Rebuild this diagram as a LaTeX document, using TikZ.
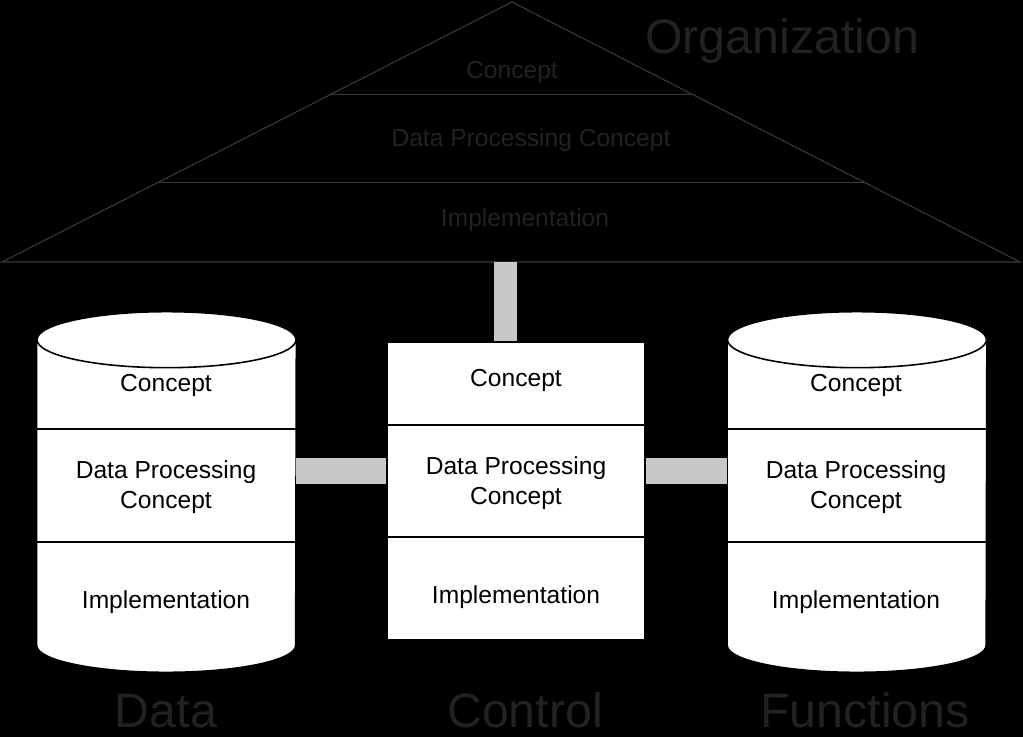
\documentclass[tikz,border=0pt]{standalone}
\usepackage{fontspec}
\setmainfont{Liberation Sans}
\usetikzlibrary{positioning, calc}
\definecolor{barcolor}{RGB}{200, 200, 200}
\definecolor{ghostline}{RGB}{58, 58, 58}
\definecolor{ghosttext}{RGB}{34, 34, 34}

\begin{document}
\begin{tikzpicture}[
    x=0.02cm, y=0.02cm,
    body/.style={rectangle, inner sep=0pt, minimum width=5.18cm, minimum height=6.1cm},
    drum/.style={draw=black, fill=white, line width=0.9pt},
    cell/.style={font=\fontsize{14}{17}\selectfont, align=center},
    roof/.style={draw=ghostline, line width=0.6pt},
    rooftext/.style={font=\fontsize{14}{17}\selectfont, text=ghosttext},
    big/.style={font=\fontsize{27.5}{33}\selectfont, text=ghosttext, anchor=base,
                inner sep=1pt, text depth=0pt},
    bar/.style={fill=barcolor}
]

% Background (the page is as large as the picture)
\fill[black] (0,0) rectangle (1023,-737);
\useasboundingbox (0,0) rectangle (1023,-737);

% Roof: organization triangle
\coordinate (apex) at (512,-2);
\coordinate (baseL) at (2,-262);
\coordinate (baseR) at (1020,-262);
\draw[roof] (apex) -- (baseL) -- (baseR) -- cycle;
\draw[roof] ($(apex)!0.354!(baseL)$) -- ($(apex)!0.354!(baseR)$);
\draw[roof] ($(apex)!0.696!(baseL)$) -- ($(apex)!0.696!(baseR)$);

\node[rooftext] (orgC) at (512,-72) {Concept};
\node[rooftext] (orgD) at (531,-140) {Data Processing Concept};
\node[rooftext] (orgI) at (525,-220) {Implementation};
\node[big] (org) at (782,-53) {Organization};

% Control column
\node[body, draw=black, fill=white, line width=0.9pt,
      minimum width=5.16cm, minimum height=5.96cm] (ctrl) at (516,-491) {};
\draw[line width=0.9pt] (ctrl.west |- 0,-425) -- (ctrl.east |- 0,-425);
\draw[line width=0.9pt] (ctrl.west |- 0,-537) -- (ctrl.east |- 0,-537);
\node[cell] (ctrlC) at (516,-380) {Concept};
\node[cell] (ctrlD) at (516,-483) {Data Processing\\Concept};
\node[cell] (ctrlI) at (516,-597) {Implementation};

% Data column
\node[body] (data) at (166.5,-492.5) {};
\draw[drum] (data.north west) -- (data.south west)
    arc[start angle=180, end angle=360, x radius=129.5, y radius=27]
    -- (data.north east);
\draw[drum] (data.north) ellipse [x radius=129.5, y radius=28];
\draw[line width=0.9pt] (data.west |- 0,-429) -- (data.east |- 0,-429);
\draw[line width=0.9pt] (data.west |- 0,-542) -- (data.east |- 0,-542);
\node[cell] (dataC) at (166,-385) {Concept};
\node[cell] (dataD) at (166,-487) {Data Processing\\Concept};
\node[cell] (dataI) at (166,-602) {Implementation};

% Functions column
\node[body] (func) at (857,-492.5) {};
\draw[drum] (func.north west) -- (func.south west)
    arc[start angle=180, end angle=360, x radius=129.5, y radius=27]
    -- (func.north east);
\draw[drum] (func.north) ellipse [x radius=129.5, y radius=28];
\draw[line width=0.9pt] (func.west |- 0,-429) -- (func.east |- 0,-429);
\draw[line width=0.9pt] (func.west |- 0,-542) -- (func.east |- 0,-542);
\node[cell] (funcC) at (856,-385) {Concept};
\node[cell] (funcD) at (856,-487) {Data Processing\\Concept};
\node[cell] (funcI) at (856,-602) {Implementation};

% Links
\fill[bar] (494,0 |- baseL) rectangle (517,0 |- ctrl.north);
\fill[bar] (data.east |- 0,-458) rectangle (ctrl.west |- 0,-484);
\fill[bar] (ctrl.east |- 0,-458) rectangle (func.west |- 0,-484);

% Column titles
\node[big] (dataT) at (166,-727) {Data};
\node[big] (ctrlT) at (525,-727) {Control};
\node[big] (funcT) at (865,-727) {Functions};

\end{tikzpicture}
\end{document}
